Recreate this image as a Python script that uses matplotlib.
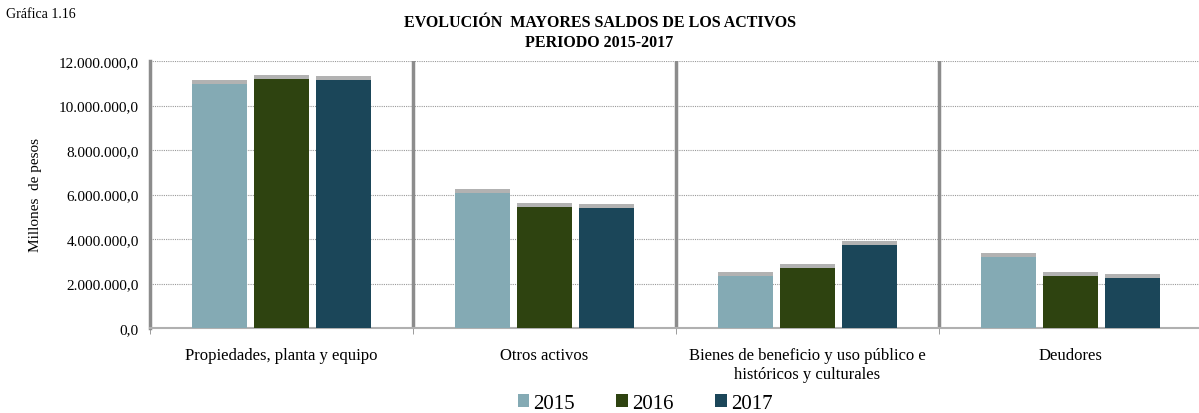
import numpy as np
import matplotlib
matplotlib.use('Agg')
import matplotlib.pyplot as plt
import matplotlib.patheffects as pe
from matplotlib.patches import Patch
from matplotlib.ticker import FuncFormatter

plt.rcParams['font.family'] = ['Liberation Serif', 'DejaVu Serif']

categories = ['Propiedades, planta y equipo', 'Otros activos',
              'Bienes de beneficio y uso público e\nhistóricos y culturales', 'Deudores']
years = ['2015', '2016', '2017']
v2015 = [10970000, 6070000, 2350000, 3200000]
v2016 = [11190000, 5450000, 2700000, 2340000]
v2017 = [11150000, 5390000, 3720000, 2230000]
colors = ['#84aab4', '#2e4310', '#1b4659']

fig = plt.figure(figsize=(11.99, 4.14), dpi=100)
ax = fig.add_axes([150 / 1199, 1 - 329 / 414, 1052 / 1199, 267 / 414])

x = np.arange(len(categories))
width = 0.21
step = 0.236
shadow = [pe.SimplePatchShadow(offset=(0, 3), shadow_rgbFace='#808080', alpha=0.6), pe.Normal()]
for i, (vals, c) in enumerate(zip([v2015, v2016, v2017], colors)):
    bars = ax.bar(x + (i - 1) * step, vals, width, color=c, zorder=3)
    for b in bars:
        b.set_path_effects(shadow)

ax.set_xlim(-0.5, len(categories) - 0.5)
ax.set_ylim(0, 12000000)
ax.set_yticks(np.arange(0, 12000001, 2000000))
ax.yaxis.set_major_formatter(FuncFormatter(
    lambda v, p: '{:,.1f}'.format(v).replace(',', 'X').replace('.', ',').replace('X', '.')))
ax.grid(axis='y', color='#9a9a9a', linestyle=(0, (1, 1)), linewidth=0.8, zorder=0)

for sep in np.arange(0.5, len(categories) - 0.5, 1):
    ax.axvline(sep, color='#8c8c8c', linewidth=2.5, zorder=2)

ax.set_xticks(x)
ax.set_xticklabels(categories, fontsize=12)
ax.set_xticks(np.arange(-0.5, len(categories), 1), minor=True)
ax.tick_params(axis='x', which='major', length=0, pad=14)
ax.tick_params(axis='x', which='minor', length=4, color='#8c8c8c')
ax.tick_params(axis='y', length=0, labelsize=11, pad=8)

for s in ['top', 'right']:
    ax.spines[s].set_visible(False)
ax.spines['left'].set_color('#8c8c8c')
ax.spines['left'].set_linewidth(2.5)
ax.spines['bottom'].set_color('#b0b0b0')
ax.spines['bottom'].set_linewidth(1.5)

ax.set_ylabel('Millones  de pesos', fontsize=11, labelpad=12)

fig.text(0.005, 0.965, 'Gráfica 1.16', fontsize=10, va='center')
fig.text(0.5, 0.92, 'EVOLUCIÓN  MAYORES SALDOS DE LOS ACTIVOS\nPERIODO 2015-2017',
         fontsize=11.5, fontweight='bold', ha='center', va='center', linespacing=1.35)

handles = [Patch(facecolor=c, label=y) for c, y in zip(colors, years)]
fig.legend(handles=handles, loc='lower center', bbox_to_anchor=(0.538, -0.045), ncol=3,
           frameon=False, fontsize=15, handlelength=0.55, handleheight=0.55,
           handletextpad=0.2, columnspacing=2.0)

fig.savefig('out.png', dpi=100)
